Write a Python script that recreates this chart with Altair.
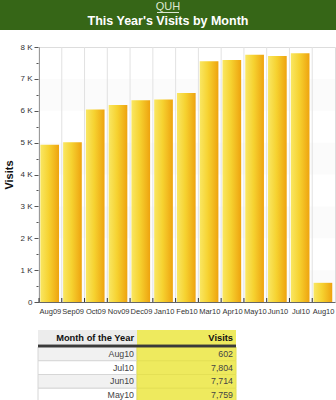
import altair as alt
import pandas as pd

# ---------------- data ----------------
site_name = "QUH"
chart_title = "This Year's Visits by Month"
months = ["Aug09", "Sep09", "Oct09", "Nov09", "Dec09", "Jan10", "Feb10",
          "Mar10", "Apr10", "May10", "Jun10", "Jul10", "Aug10"]
visits = [4930, 5010, 6040, 6180, 6330, 6350, 6560,
          7550, 7590, 7759, 7714, 7804, 602]
y_tick_values = [0, 500, 1000, 1500, 2000, 2500, 3000, 3500, 4000,
                 4500, 5000, 5500, 6000, 6500, 7000, 7500, 8000]
shade_lo = [0, 2000, 4000, 6000]
shade_hi = [1000, 3000, 5000, 7000]
table_columns = ["Month of the Year", "Visits"]
table_rows_n = 4

W, H = 296, 255
FONT = "Liberation Sans"

bars_df = pd.DataFrame({"month": months, "visits": visits})
shade_df = pd.DataFrame({"lo": shade_lo, "hi": shade_hi})

# last months, newest first, for the table
t_months = months[::-1][:table_rows_n]
t_visits = visits[::-1][:table_rows_n]
cells = []
for i, (m, v) in enumerate(zip(t_months, t_visits)):
    cells.append({"row": m, "col": table_columns[0], "text": m,
                  "bg": "#f1f1f1" if i % 2 == 0 else "#ffffff", "sc": "#d6d6d6"})
    cells.append({"row": m, "col": table_columns[1], "text": f"{v:,}",
                  "bg": "#eeea5e", "sc": "#e4e055"})
cells_df = pd.DataFrame(cells)
head_df = pd.DataFrame({"col": table_columns,
                        "bg": ["#ececec", "#eeea5e"]})
banner_df = pd.DataFrame({"site": [site_name], "title": [chart_title]})

# ---------------- scales ----------------
xscale = alt.Scale(domain=months, paddingInner=0, paddingOuter=0)
yscale = alt.Scale(domain=[0, 8000], nice=False)
colscale = alt.Scale(domain=table_columns, range=[-1, 197], paddingInner=0, paddingOuter=0)
coltext = alt.Scale(type="point", domain=table_columns, range=[95, 194], padding=0)
rowscale = alt.Scale(domain=t_months, range=[300, 355], paddingInner=0, paddingOuter=0)

major = "datum.value % 1000 == 0"

shade = alt.Chart(shade_df).mark_rect(color="#000000", opacity=0.015).encode(
    y=alt.Y("lo:Q", scale=yscale, axis=None),
    y2="hi:Q",
)

vgrid = alt.Chart(bars_df).mark_rule(color="#e2e2e2").encode(
    x=alt.X("month:N", scale=xscale, sort=months, bandPosition=0, axis=None),
    y=alt.value(0),
    y2=alt.value(H),
)

bars = alt.Chart(bars_df).mark_bar(
    xOffset=-0.7,
    width=alt.RelativeBandSize(0.82),
    color=alt.Gradient(
        gradient="linear", x1=0, x2=1, y1=0, y2=0,
        stops=[alt.GradientStop(color="#f9e763", offset=0),
               alt.GradientStop(color="#f6d230", offset=0.45),
               alt.GradientStop(color="#eea30f", offset=1)],
    ),
).encode(
    x=alt.X("month:N", scale=xscale, sort=months, title=None,
            axis=alt.Axis(ticks=False, grid=False, labelAngle=0,
                          labelFontSize=7.5, labelColor="#333333", labelFont=FONT,
                          labelPadding=5, labelOverlap=False,
                          domainColor="#666666")),
    y=alt.Y("visits:Q", scale=yscale, title="Visits",
            axis=alt.Axis(values=y_tick_values,
                          labelExpr=f"{major} ? (datum.value == 0 ? '0' : datum.value / 1000 + ' K') : ''",
                          gridColor="#e2e2e2",
                          gridOpacity={"condition": {"test": major, "value": 1}, "value": 0},
                          tickSize={"condition": {"test": major, "value": 5}, "value": 3},
                          tickColor="#555555", domainColor="#555555",
                          labelFontSize=8, labelColor="#333333", labelFont=FONT,
                          labelPadding=2,
                          titleFont=FONT, titleFontSize=11, titleFontWeight="bold",
                          titleColor="#111111", titlePadding=5)),
)

ticks = alt.Chart(bars_df).mark_rule(color="#333333").encode(
    x=alt.X("month:N", scale=xscale, sort=months, bandPosition=0, axis=None),
    y=alt.value(H - 4),
    y2=alt.value(H),
)

# ---------------- table ----------------
head_rect = alt.Chart(head_df).mark_rect().encode(
    x=alt.X("col:N", scale=colscale, sort=table_columns, axis=None),
    y=alt.value(283), y2=alt.value(298),
    color=alt.Color("bg:N", scale=None),
)
head_text = alt.Chart(head_df).mark_text(
    align="right", baseline="middle", fontSize=9.3, fontWeight="bold",
    font=FONT, color="#111111",
).encode(
    x=alt.X("col:N", scale=coltext, sort=table_columns, axis=None),
    y=alt.value(291),
    text="col:N",
)
cell_rect = alt.Chart(cells_df).mark_rect(strokeWidth=1).encode(
    x=alt.X("col:N", scale=colscale, sort=table_columns, axis=None),
    y=alt.Y("row:N", scale=rowscale, sort=t_months, axis=None),
    color=alt.Color("bg:N", scale=None),
    stroke=alt.Stroke("sc:N", scale=None),
)
cell_text = alt.Chart(cells_df).mark_text(
    align="right", baseline="middle", fontSize=8.8, font=FONT, color="#444444",
).encode(
    x=alt.X("col:N", scale=coltext, sort=table_columns, axis=None),
    y=alt.Y("row:N", scale=rowscale, sort=t_months, axis=None),
    text="text:N",
)
head_line = alt.Chart(head_df).mark_rule(color="#3a3a3a", strokeWidth=2.5).encode(
    x=alt.value(-1), x2=alt.value(197), y=alt.value(299),
)

# ---------------- banner ----------------
banner_rect = alt.Chart(banner_df).mark_rect(color="#366617").encode(
    x=alt.value(-39), x2=alt.value(297), y=alt.value(-47), y2=alt.value(-17),
)
banner_site = alt.Chart(banner_df).mark_text(
    fontSize=11, font=FONT, color="#dce8d2", baseline="middle",
).encode(x=alt.value(129), y=alt.value(-40), text="site:N")
banner_under = alt.Chart(banner_df).mark_rule(color="#dce8d2").encode(
    x=alt.value(118), x2=alt.value(140), y=alt.value(-34.5),
)
banner_title = alt.Chart(banner_df).mark_text(
    fontSize=12.5, font=FONT, fontWeight="bold", color="#ffffff", baseline="middle",
).encode(x=alt.value(129), y=alt.value(-26), text="title:N")

chart = alt.layer(
    shade, vgrid, bars, ticks,
    head_rect, cell_rect, head_text, cell_text, head_line,
    banner_rect, banner_site, banner_under, banner_title,
).resolve_scale(
    x="independent", y="independent", color="independent", stroke="independent"
).properties(
    width=W, height=H,
    autosize=alt.AutoSizeParams(type="none"),
    padding={"left": 39, "top": 47, "right": 1, "bottom": 98},
    background="white",
).configure_view(stroke="#dddddd")

chart.save("out.html", embed_options={"renderer": "svg", "actions": False})
